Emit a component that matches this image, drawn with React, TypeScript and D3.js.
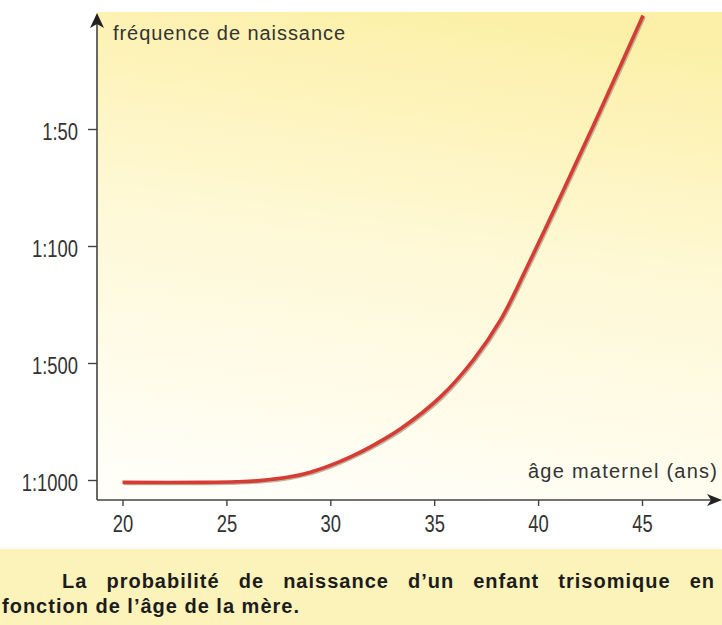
import React, { useEffect, useRef } from 'react';
import * as d3 from 'd3';

// maternal age (years) and birth-frequency level
// level 0 = 1:1000, 1 = 1:500, 2 = 1:100, 3 = 1:50 (equally spaced on the chart)
const ages = [20, 24, 25.5, 26.6, 28, 29, 30, 31, 32, 33.4, 35.3, 36.9, 38.2, 39.6, 41.2, 43.1, 45.05];
const freqLevels = [-0.02, -0.02, -0.015, -0.005, 0.025, 0.065, 0.125, 0.2, 0.29, 0.44, 0.71, 1.03, 1.37, 1.87, 2.47, 3.2, 3.97];

const yTickLabels = ['1:1000', '1:500', '1:100', '1:50'];
const xTicks = [20, 25, 30, 35, 40, 45];

const yTitle = 'fréquence de naissance';
const xTitle = 'âge maternel (ans)';
const captionLines = [
  'La probabilité de naissance d’un enfant trisomique en',
  'fonction de l’âge de la mère.',
];

const W = 722;
const H = 625;

const App: React.FC = () => {
  const ref = useRef<SVGSVGElement | null>(null);

  useEffect(() => {
    if (!ref.current) return;
    const svg = d3.select(ref.current);
    svg.selectAll('*').remove();

    const axisX = 97;
    const axisY = 500;
    const font = "'Liberation Sans', Arial, sans-serif";
    const squeeze = 0.8; // tick digits are condensed in the print

    const x = d3.scaleLinear().domain([20, 45]).range([122.5, 642]);
    const y = d3.scaleLinear().domain([0, 3]).range([480, 129]);

    // background gradient
    const defs = svg.append('defs');
    const grad = defs
      .append('linearGradient')
      .attr('id', 'bg')
      .attr('x1', 0.56)
      .attr('y1', 0)
      .attr('x2', 0.38)
      .attr('y2', 1);
    grad.append('stop').attr('offset', 0).attr('stop-color', '#fcf0a8');
    grad.append('stop').attr('offset', 0.45).attr('stop-color', '#fef8d4');
    grad.append('stop').attr('offset', 1).attr('stop-color', '#fffef7');

    svg.append('rect').attr('width', W).attr('height', H).attr('fill', '#ffffff');
    svg
      .append('rect')
      .attr('x', axisX)
      .attr('y', 12)
      .attr('width', W - axisX)
      .attr('height', axisY - 12)
      .attr('fill', 'url(#bg)');

    // caption box
    svg
      .append('rect')
      .attr('x', 0)
      .attr('y', 549)
      .attr('width', W)
      .attr('height', H - 549)
      .attr('fill', '#fcf3bb');

    // curve
    const pts = ages.map((a, i) => [a, freqLevels[i]] as [number, number]);
    const line = d3
      .line<[number, number]>()
      .x((d) => x(d[0]))
      .y((d) => y(d[1]))
      .curve(d3.curveCatmullRom.alpha(0.5));

    svg
      .append('path')
      .datum(pts)
      .attr('d', line)
      .attr('fill', 'none')
      .attr('stroke', '#a89f86')
      .attr('stroke-width', 3)
      .attr('opacity', 0.75)
      .attr('transform', 'translate(1.4,1.4)');
    svg
      .append('path')
      .datum(pts)
      .attr('d', line)
      .attr('fill', 'none')
      .attr('stroke', '#d63b34')
      .attr('stroke-width', 3.6);

    // y axis
    const gy = svg
      .append('g')
      .attr('transform', `translate(${axisX},0)`)
      .call(
        d3
          .axisLeft(y)
          .tickValues([0, 1, 2, 3])
          .tickFormat((d) => yTickLabels[d as number])
          .tickSize(9)
          .tickPadding(10)
      );
    gy.select('.domain').remove();
    gy.selectAll('line').attr('stroke', '#444').attr('stroke-width', 1.4);
    gy.selectAll('text')
      .attr('x', -19 / squeeze)
      .attr('dy', '0.45em')
      .attr('transform', `scale(${squeeze},1)`)
      .attr('fill', '#333')
      .style('font-family', font)
      .style('font-size', '23px');

    // x axis
    const gx = svg
      .append('g')
      .attr('transform', `translate(0,${axisY})`)
      .call(d3.axisBottom(x).tickValues(xTicks).tickSize(6).tickPadding(10));
    gx.select('.domain').remove();
    gx.selectAll('line').attr('stroke', '#444').attr('stroke-width', 1.4);
    gx.selectAll('text')
      .attr('transform', `scale(${squeeze},1)`)
      .attr('fill', '#333')
      .style('font-family', font)
      .style('font-size', '23px');

    // axis lines with arrows
    svg
      .append('path')
      .attr('d', `M${axisX},${axisY}V20M${axisX},${axisY}H714`)
      .attr('fill', 'none')
      .attr('stroke', '#444')
      .attr('stroke-width', 1.6);
    svg
      .append('path')
      .attr('d', `M${axisX},13L${axisX + 7},28L${axisX},24L${axisX - 7},28Z`)
      .attr('fill', '#222');
    svg
      .append('path')
      .attr('d', `M722,${axisY}L707,${axisY - 6}L711,${axisY}L707,${axisY + 6}Z`)
      .attr('fill', '#222');

    // axis titles
    svg
      .append('text')
      .attr('x', 113)
      .attr('y', 40)
      .attr('textLength', 232)
      .attr('lengthAdjust', 'spacing')
      .attr('fill', '#333')
      .style('font-family', font)
      .style('font-size', '20px')
      .text(yTitle);
    svg
      .append('text')
      .attr('x', 528)
      .attr('y', 478)
      .attr('textLength', 189)
      .attr('lengthAdjust', 'spacing')
      .attr('fill', '#333')
      .style('font-family', font)
      .style('font-size', '20px')
      .text(xTitle);

    // caption, justified like the print
    const l2 = svg
      .append('text')
      .attr('x', 2)
      .attr('y', 613)
      .attr('fill', '#1c1c1c')
      .style('font-family', font)
      .style('font-size', '20px')
      .style('font-weight', 'bold')
      .text(captionLines[1]);
    const nat2 = (l2.node() as SVGTextElement).getComputedTextLength();
    const ls = Math.max(0, (298 - nat2) / captionLines[1].length);
    l2.style('letter-spacing', `${ls}px`);

    const l1 = svg
      .append('text')
      .attr('x', 62)
      .attr('y', 588)
      .attr('fill', '#1c1c1c')
      .style('font-family', font)
      .style('font-size', '20px')
      .style('font-weight', 'bold')
      .style('letter-spacing', `${ls}px`)
      .text(captionLines[0]);
    const nat1 = (l1.node() as SVGTextElement).getComputedTextLength();
    const spaces = captionLines[0].split(' ').length - 1;
    l1.style('word-spacing', `${Math.max(0, (653 - nat1) / spaces)}px`);
  }, []);

  return (
    <svg
      ref={ref}
      width={W}
      height={H}
      style={{ position: 'absolute', left: 0, top: 0, display: 'block' }}
    ></svg>
  );
};

export default App;
